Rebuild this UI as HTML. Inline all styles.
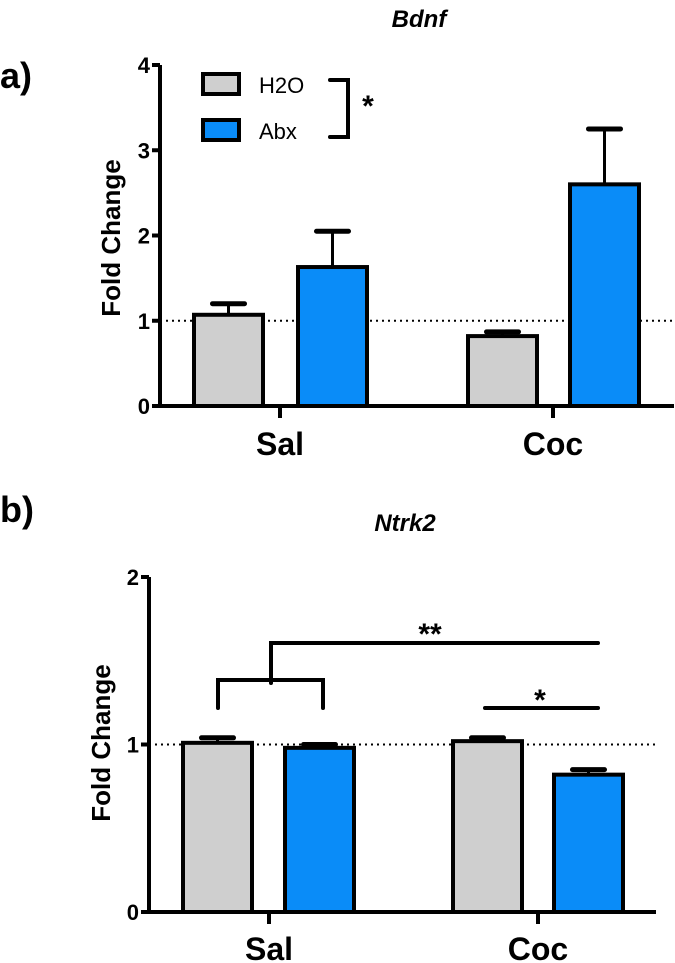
<!DOCTYPE html>
<html><head><meta charset="utf-8"><style>
html,body{margin:0;padding:0;background:#fff;}
svg{display:block;font-family:"Liberation Sans Narrow","Liberation Sans",sans-serif;}
</style></head><body>
<svg id="c" width="675" height="963" viewBox="0 0 675 963">
<text x="0" y="88" font-size="36" font-weight="bold" font-family="Liberation Sans,sans-serif">a)</text>
<text x="419" y="27" font-size="24" font-weight="bold" font-style="italic" text-anchor="middle">Bdnf</text>
<text x="0" y="522" font-size="36" font-weight="bold" font-family="Liberation Sans,sans-serif">b)</text>
<text x="405" y="531" font-size="24" font-weight="bold" font-style="italic" text-anchor="middle">Ntrk2</text>
<g id="ga"></g><g id="gb"></g>
</svg>
<script>
const groups=["Sal","Coc"];
const seriesNames=["H2O","Abx"];
const bdnfMeans=[[1.07,1.63],[0.82,2.6]];
const bdnfErr=[[0.13,0.42],[0.05,0.65]];
const bdnfTicks=[0,1,2,3,4];
const ntrkMeans=[[1.01,0.98],[1.02,0.82]];
const ntrkErr=[[0.03,0.02],[0.02,0.03]];
const ntrkTicks=[0,1,2];
const colors=["#cfcfcf","#0a8cf8"];
const NS="http://www.w3.org/2000/svg";
function mk(p,tag,attrs,txt){const e=document.createElementNS(NS,tag);for(const k in attrs)e.setAttribute(k,attrs[k]);if(txt!==undefined)e.textContent=txt;p.appendChild(e);return e;}
function chart(g,cfg,means,errs,ticks,tag){
  const y=v=>cfg.y0-(v-ticks[0])/(ticks[ticks.length-1]-ticks[0])*(cfg.y0-cfg.yTop);
  // ref line
  const rl=mk(g,"line",{x1:cfg.ax,x2:cfg.axEnd,y1:y(1),y2:y(1),stroke:"#000","stroke-width":2,"stroke-dasharray":"2,4"});
  
  
  groups.forEach((gname,gi)=>{
    means[gi].forEach((m,si)=>{
      const x=cfg.barX[gi][si],w=cfg.barW;
      const el=mk(g,"line",{x1:x+w/2,x2:x+w/2,y1:y(m),y2:y(m+errs[gi][si]),stroke:"#000","stroke-width":3});
      
      
      const cap=mk(g,"line",{x1:x+w/2-16,x2:x+w/2+16,y1:y(m+errs[gi][si]),y2:y(m+errs[gi][si]),stroke:"#000","stroke-width":5,"stroke-linecap":"round"});
      
      
      const b=mk(g,"rect",{x:x,y:y(m),width:w,height:cfg.y0-y(m),fill:colors[si],stroke:"#000","stroke-width":4});
      
      
    });
    const tk=mk(g,"line",{x1:cfg.groupX[gi],x2:cfg.groupX[gi],y1:cfg.y0,y2:cfg.y0+12,stroke:"#000","stroke-width":4});
    
    
    const lb=mk(g,"text",{x:cfg.groupX[gi],y:cfg.labelY,"font-size":32,"font-weight":"bold","text-anchor":"middle"},gname);
    
    
  });
  const ya=mk(g,"line",{x1:cfg.ax,x2:cfg.ax,y1:cfg.yTop,y2:cfg.y0+2,stroke:"#000","stroke-width":4});
  
  
  const xa=mk(g,"line",{x1:cfg.ax-8,x2:cfg.axEnd,y1:cfg.y0,y2:cfg.y0,stroke:"#000","stroke-width":4});
  
  
  ticks.forEach(t=>{
    const tl=mk(g,"line",{x1:cfg.ax-8,x2:cfg.ax,y1:y(t),y2:y(t),stroke:"#000","stroke-width":4});
    
    
    const tt=mk(g,"text",{x:cfg.ax-10,y:y(t)+8,"font-size":22,"font-weight":"bold","text-anchor":"end"},String(t));
    
    
  });
  const yt=mk(g,"text",{x:0,y:0,"font-size":26,"font-weight":"bold","font-family":"Liberation Sans,sans-serif","text-anchor":"middle",transform:`translate(${cfg.ylx},${cfg.yly}) rotate(-90)`},"Fold Change");
  
  
  return y;
}
const ga=document.getElementById("ga"),gb=document.getElementById("gb");
chart(ga,{ax:160,axEnd:674,y0:406,yTop:65,barW:69,barX:[[194,298],[468,570]],groupX:[280,553],labelY:455,ylx:120,yly:238},bdnfMeans,bdnfErr,bdnfTicks,"a");
const yb=chart(gb,{ax:149,axEnd:656,y0:912,yTop:577,barW:69,barX:[[183,285],[453,554]],groupX:[269,538],labelY:960,ylx:110,yly:743},ntrkMeans,ntrkErr,ntrkTicks,"b");
// legend
seriesNames.forEach((s,i)=>{
  const r=mk(ga,"rect",{x:203,y:[74,120][i],width:36,height:20,fill:colors[i],stroke:"#000","stroke-width":4});
  
  
  const t=mk(ga,"text",{x:259,y:[93,139][i],"font-size":22},s);
  
  
});
const br=mk(ga,"path",{d:"M330 80 H348 V137 H330",fill:"none",stroke:"#000","stroke-width":4,"stroke-linecap":"round"});


const st=mk(ga,"text",{x:368,y:116,"font-size":30,"font-weight":"bold","text-anchor":"middle"},"*");


const b1=mk(gb,"path",{d:"M218 708 V680 H323 V708 M271 683 V643 H598",fill:"none",stroke:"#000","stroke-width":4,"stroke-linecap":"round"});


const s1=mk(gb,"text",{x:430,y:644,"font-size":30,"font-weight":"bold","text-anchor":"middle"},"**");


const b2=mk(gb,"line",{x1:485,x2:598,y1:708,y2:708,stroke:"#000","stroke-width":4,"stroke-linecap":"round"});


const s2=mk(gb,"text",{x:540,y:710,"font-size":30,"font-weight":"bold","text-anchor":"middle"},"*");


</script>
</body></html>
